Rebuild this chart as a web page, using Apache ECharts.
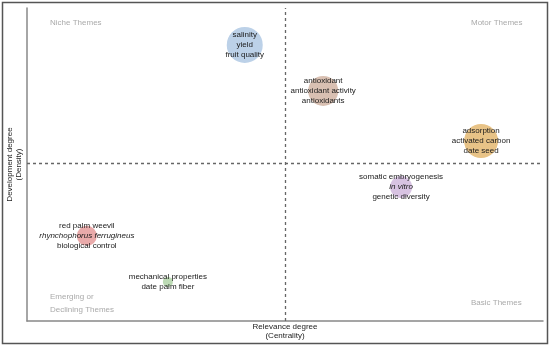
<!DOCTYPE html>
<html>
<head>
<meta charset="utf-8">
<script src="https://cdn.jsdelivr.net/npm/echarts@6/dist/echarts.min.js"></script>
<style>html,body{margin:0;padding:0;background:#fff}#c{width:550px;height:347px}</style>
</head>
<body>
<div id="c"></div>
<script>
// Theme clusters (strategic diagram)
const themes = [
  ['salinity', 'yield', 'fruit quality'],
  ['antioxidant', 'antioxidant activity', 'antioxidants'],
  ['adsorption', 'activated carbon', 'date seed'],
  ['somatic embryogenesis', 'in vitro', 'genetic diversity'],
  ['red palm weevil', 'rhynchophorus ferrugineus', 'biological control'],
  ['mechanical properties', 'date palm fiber']
];
const italicWords = ['in vitro', 'rhynchophorus ferrugineus'];
const centrality = [42.2, 57.4, 88.0, 72.5, 11.6, 27.3];
const density = [88.2, 73.5, 57.5, 42.8, 27.2, 12.5];
const clusterSize = [36, 30, 34, 22, 20, 10];
const colors = ['#bcd1e8', '#d9c0b2', '#e8c387', '#d8c3e2', '#e9aaaa', '#bddbb5'];
const centralityMedian = 50;
const densityMedian = 50.5;
const quadrantNames = ['Niche Themes', 'Motor Themes', 'Emerging or\nDeclining Themes', 'Basic Themes'];

const data = themes.map((t, i) => ({
  value: [centrality[i], density[i], clusterSize[i]],
  itemStyle: { color: colors[i] },
  label: {
    formatter: t.map(w => (italicWords.includes(w) ? '{i|' : '{a|') + w + '}').join('\n')
  }
}));

const chart = echarts.init(document.getElementById('c'), null, { renderer: 'canvas' });
const FONT = 'Liberation Sans, Arial, sans-serif';
chart.setOption({
  animation: false,
  grid: { left: 27, right: 7, top: 8, bottom: 26, containLabel: false, outerBoundsMode: 'none' },
  xAxis: {
    type: 'value', min: 0, max: 100,
    name: 'Relevance degree\n(Centrality)', nameLocation: 'middle', nameGap: 1,
    nameTextStyle: { fontFamily: FONT, fontSize: 8, color: '#222', lineHeight: 9 },
    axisLine: { show: true, lineStyle: { color: '#888', width: 1.5 } },
    axisTick: { show: false }, axisLabel: { show: false }, splitLine: { show: false }
  },
  yAxis: {
    type: 'value', min: 0, max: 100,
    name: 'Development degree\n(Density)', nameLocation: 'middle', nameGap: 4,
    nameTextStyle: { fontFamily: FONT, fontSize: 8, color: '#222', lineHeight: 9 },
    axisLine: { show: true, lineStyle: { color: '#888', width: 1.5 } },
    axisTick: { show: false }, axisLabel: { show: false }, splitLine: { show: false }
  },
  series: [{
    type: 'scatter',
    data: data,
    symbolSize: v => v[2],
    itemStyle: { opacity: 1 },
    label: {
      show: true, position: 'inside',
      rich: {
        a: { fontFamily: FONT, fontSize: 8, color: '#1a1a1a', lineHeight: 10 },
        i: { fontFamily: FONT, fontSize: 8, color: '#1a1a1a', lineHeight: 10, fontStyle: 'italic' }
      }
    },
    markLine: {
      silent: true, symbol: 'none', label: { show: false },
      lineStyle: { color: '#666', type: [3, 3], width: 1.3 },
      data: [{ xAxis: centralityMedian }, { yAxis: densityMedian }]
    },
    z: 3
  }],
  graphic: [
    { type: 'rect', shape: { x: 2.5, y: 2.5, width: 545, height: 341 }, style: { fill: 'none', stroke: '#555', lineWidth: 1.5 }, silent: true },
    { type: 'text', left: 50, top: 19, style: { text: quadrantNames[0], font: '8px ' + FONT, fill: '#aaa' } },
    { type: 'text', left: 471, top: 19, style: { text: quadrantNames[1], font: '8px ' + FONT, fill: '#aaa' } },
    { type: 'text', left: 50, top: 290, style: { text: quadrantNames[2], font: '8px ' + FONT, fill: '#aaa', lineHeight: 13 } },
    { type: 'text', left: 471, top: 299, style: { text: quadrantNames[3], font: '8px ' + FONT, fill: '#aaa' } }
  ]
});
</script>
</body>
</html>
